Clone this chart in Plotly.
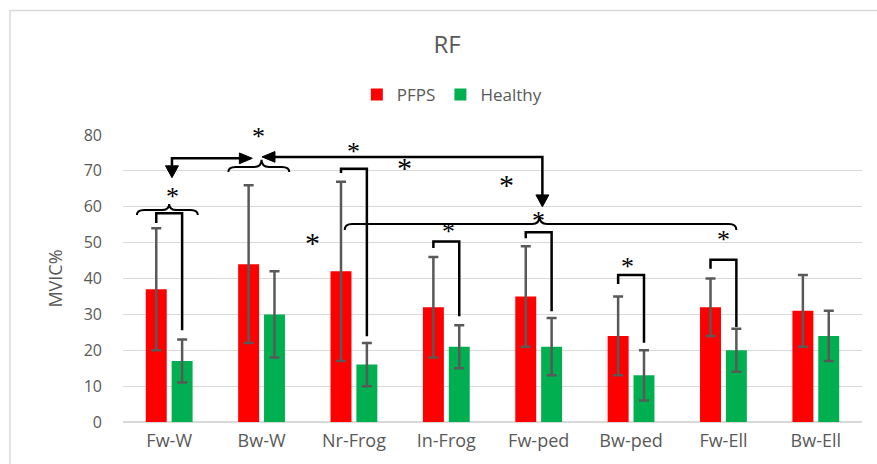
import plotly.graph_objects as go

# ---------------- data ----------------
categories = ["Fw-W", "Bw-W", "Nr-Frog", "In-Frog", "Fw-ped", "Bw-ped", "Fw-Ell", "Bw-Ell"]
pfps = [37, 44, 42, 32, 35, 24, 32, 31]
pfps_sd = [17, 22, 25, 14, 14, 11, 8, 10]
healthy = [17, 30, 16, 21, 21, 13, 20, 24]
healthy_sd = [6, 12, 6, 6, 8, 7, 6, 7]
y_ticks = [0, 10, 20, 30, 40, 50, 60, 70, 80]

# significance brackets: (category index, bracket top, left leg end, right leg end)
brackets = [
    (0, 58.2, 55.5, 25.6),
    (2, 70.6, 69.4, 23.9),
    (3, 50.3, 48.5, 29.5),
    (4, 52.9, 51.2, 30.9),
    (5, 41.0, 38.5, 22.1),
    (6, 45.2, 42.7, 26.5),
]
# curly braces: (left, right, tip x, curl-end y, flat y, tip y)
braces = [
    (-0.35, 0.31, 0.0, 57.7, 59.1, 60.8),
    (0.64, 1.30, 1.0, 69.7, 71.1, 73.1),
    (1.90, 6.14, 4.01, 53.5, 55.2, 57.3),
]
# asterisks: (x, y, size)
stars = [
    (0.04, 63.9, 26), (0.97, 80.6, 26), (1.99, 76.4, 26), (2.55, 72.2, 30),
    (3.65, 67.5, 30), (1.55, 51.3, 30), (3.02, 54.1, 26), (4.0, 57.0, 26),
    (4.96, 44.3, 26), (6.0, 51.9, 26),
]

RED = "#FF0000"
GREEN = "#00B050"
GREY = "#595959"
FONT = "Open Sans"
OFF = 0.14  # half slot offset of grouped bars in category units
X_MIN, X_MAX = -0.5, 7.5
Y_MIN, Y_MAX = 0, 80

fig = go.Figure()
x_idx = list(range(len(categories)))
fig.add_trace(go.Bar(
    x=x_idx, y=pfps, name="PFPS", marker=dict(color=RED, line=dict(width=0)),
    error_y=dict(type="data", array=pfps_sd, color=GREY, thickness=2.5, width=5),
))
fig.add_trace(go.Bar(
    x=x_idx, y=healthy, name="Healthy", marker=dict(color=GREEN, line=dict(width=0)),
    error_y=dict(type="data", array=healthy_sd, color=GREY, thickness=2.5, width=5),
))

shapes = []
LW = 2.5
for i, top, lend, rend in brackets:
    xl, xr = i - OFF, i + OFF
    shapes.append(dict(type="path", xref="x", yref="y",
                       path=f"M {xl},{lend} L {xl},{top} L {xr},{top} L {xr},{rend}",
                       line=dict(color="black", width=LW)))

for x0, x1, xm, yb, yf, yt in braces:
    d = 0.08
    p = (f"M {x0},{yb} Q {x0},{yf} {x0 + d},{yf} L {xm - d},{yf} "
         f"Q {xm},{yf} {xm},{yt} Q {xm},{yf} {xm + d},{yf} "
         f"L {x1 - d},{yf} Q {x1},{yf} {x1},{yb}")
    shapes.append(dict(type="path", xref="x", yref="y", path=p,
                       line=dict(color="black", width=2)))

# arrow 1: from Fw-W down arrow to right-pointing arrow at Bw-W
ax0, ay0 = 0.03, 73.5
shapes.append(dict(type="path", xref="x", yref="y",
                   path=f"M {ax0},{71.4} L {ax0},{ay0} L {0.77},{ay0}",
                   line=dict(color="black", width=LW)))
shapes.append(dict(type="path", xref="x", yref="y",
                   path=f"M {ax0 - 0.07},{71.4} L {ax0 + 0.07},{71.4} L {ax0},{68.1} Z",
                   fillcolor="black", line=dict(color="black", width=1)))
shapes.append(dict(type="path", xref="x", yref="y",
                   path=f"M 0.76,{ay0 + 1.5} L 0.76,{ay0 - 1.5} L 0.90,{ay0} Z",
                   fillcolor="black", line=dict(color="black", width=1)))
# arrow 2: left-pointing at Bw-W, down to big brace
by0 = 73.9
shapes.append(dict(type="path", xref="x", yref="y",
                   path=f"M 1.145,{by0} L 4.04,{by0} L 4.04,{63.3}",
                   line=dict(color="black", width=LW)))
shapes.append(dict(type="path", xref="x", yref="y",
                   path=f"M 1.145,{by0 + 1.5} L 1.145,{by0 - 1.5} L 1.005,{by0} Z",
                   fillcolor="black", line=dict(color="black", width=1)))
shapes.append(dict(type="path", xref="x", yref="y",
                   path=f"M 3.97,{63.3} L 4.11,{63.3} L 4.04,{60.0} Z",
                   fillcolor="black", line=dict(color="black", width=1)))

# outer chart border
shapes.append(dict(type="rect", xref="paper", yref="paper",
                   x0=(10 - 123) / 739, x1=(890 - 123) / 739,
                   y0=-(480 - 421.7) / 286.7, y1=1 + (135 - 10.7) / 286.7,
                   line=dict(color="#D9D9D9", width=1.5), layer="below"))

annotations = []
for sx, sy, ss in stars:
    annotations.append(dict(x=(sx - X_MIN) / (X_MAX - X_MIN), y=(sy - Y_MIN) / (Y_MAX - Y_MIN),
                            xref="paper", yref="paper", xanchor="center", yanchor="middle",
                            text="*", showarrow=False,
                            font=dict(family="Liberation Serif", size=ss, color="black"),
                            yshift=-ss * 0.28 + 4))

fig.update_layout(
    width=877, height=464,
    margin=dict(l=123, r=15, t=135, b=42),
    paper_bgcolor="white", plot_bgcolor="white",
    barmode="group", bargap=0.44, bargroupgap=0.19,
    title=dict(text="RF", x=447 / 877, xanchor="center", y=1 - 45 / 464, yanchor="middle",
               font=dict(family=FONT, size=24, color=GREY)),
    legend=dict(orientation="h", x=0.445, xanchor="center", y=1 + (135 - 95) / 286.7,
                yanchor="middle", font=dict(family=FONT, size=17, color=GREY),
                itemwidth=30, bgcolor="rgba(0,0,0,0)"),
    xaxis=dict(range=[X_MIN, X_MAX], tickvals=x_idx, ticktext=categories, showgrid=False,
               zeroline=False, showline=False, ticks="", ticklabelstandoff=6,
               tickfont=dict(family=FONT, size=18, color=GREY)),
    yaxis=dict(range=[Y_MIN, Y_MAX], tickvals=y_ticks, showgrid=True, gridcolor="#D9D9D9",
               gridwidth=1, zeroline=True, zerolinecolor="#D9D9D9", zerolinewidth=1.5,
               ticks="", ticklabelstandoff=20,
               tickfont=dict(family=FONT, size=16, color=GREY),
               title=dict(text="MVIC%", font=dict(family=FONT, size=18, color=GREY), standoff=16)),
    shapes=shapes, annotations=annotations, showlegend=True,
)

fig.write_html("out.html", config={"displayModeBar": False},
               post_script="document.body.style.margin='0px';")
